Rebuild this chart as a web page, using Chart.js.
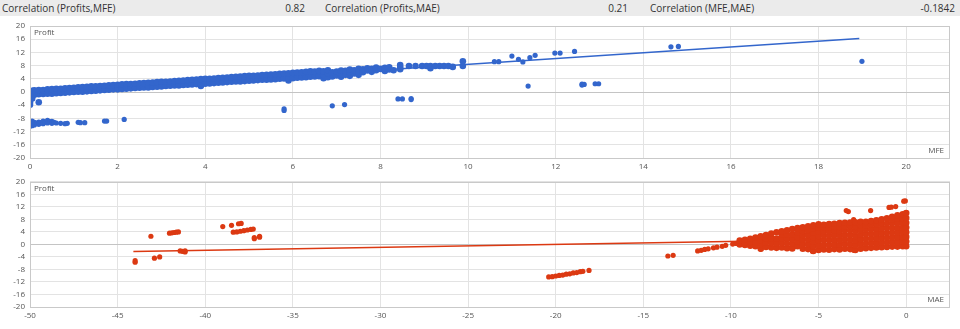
<!DOCTYPE html>
<html>
<head>
<meta charset="utf-8">
<script src="https://cdn.jsdelivr.net/npm/chart.js@4/dist/chart.umd.min.js"></script>
<style>
  body { margin: 0; background: #fff; width: 960px; height: 329px; overflow: hidden; position: relative; font-family: "Open Sans", "DejaVu Sans", sans-serif; }
  #head { position: absolute; left: 0; top: 0; width: 960px; height: 16px; background: #ebebeb; font-size: 10px; color: #333; }
  #head span { position: absolute; top: 1px; white-space: nowrap; }
  canvas { position: absolute; left: 0; }
</style>
</head>
<body>
<div id="head"></div>
<canvas id="mfeChart" width="960" height="157" style="top:15px"></canvas>
<canvas id="maeChart" width="960" height="157" style="top:172px"></canvas>
<script>
// header correlations
const corrLabels = ["Correlation (Profits,MFE)", "Correlation (Profits,MAE)", "Correlation (MFE,MAE)"];
const corrValues = ["0.82", "0.21", "-0.1842"];

// y ticks shared by both charts
const profitTicks = [20, 16, 12, 8, 4, 0, -4, -8, -12, -16, -20];
const mfeTicks = [0, 2, 4, 6, 8, 10, 12, 14, 16, 18, 20];
const maeTicks = [-50, -45, -40, -35, -30, -25, -20, -15, -10, -5, 0];

// MFE vs profit: each row is [mfe, profit, profit, ...]
const mfeBand = [
  [0.0, -0.9, 0.3, -1.6, -2.4, -3.2, -3.9], [0.05, -1.1, -2.0, 0.4], [0.1, -0.8, 0.5],
  [0.2, -0.7, 0.6, -3.1], [0.3, -0.6, 0.6], [0.4, -0.5, 0.8], [0.5, -0.5, 0.9],
  [0.6, -0.4, 1.0], [0.7, -0.3, 1.0], [0.8, -0.2, 1.1], [0.9, -0.1, 1.2],
  [1.0, 0.0, 1.3], [1.1, 0.1, 1.4], [1.2, 0.1, 1.5], [1.3, 0.2, 1.6],
  [1.4, 0.3, 1.7], [1.5, 0.4, 1.7], [1.6, 0.5, 1.8], [1.7, 0.6, 1.9],
  [1.8, 0.7, 2.0], [1.9, 0.8, 2.1], [2.0, 0.8, 2.2], [2.1, 0.9, 2.3],
  [2.2, 1.0, 2.4], [2.3, 1.1, 2.4], [2.4, 1.2, 2.5], [2.5, 1.3, 2.6],
  [2.6, 1.4, 2.7], [2.7, 1.4, 2.8], [2.8, 1.5, 2.9], [2.9, 1.6, 3.0],
  [3.0, 1.7, 3.1], [3.1, 1.8, 3.1], [3.2, 1.9, 3.2], [3.3, 2.0, 3.3],
  [3.4, 2.0, 3.4], [3.5, 2.1, 3.5], [3.6, 2.2, 3.6], [3.7, 2.3, 3.7],
  [3.8, 2.4, 3.8], [3.9, 1.8, 2.5, 3.9], [4.0, 2.5, 4.0], [4.1, 2.6, 4.0],
  [4.2, 2.7, 4.1], [4.3, 2.8, 4.2], [4.4, 2.9, 4.3], [4.5, 3.0, 4.4],
  [4.6, 3.1, 4.5], [4.7, 3.2, 4.6], [4.8, 3.2, 4.7], [4.9, 3.3, 4.8],
  [5.0, 3.4, 4.9], [5.1, 3.5, 4.9], [5.2, 3.6, 5.0], [5.3, 3.7, 5.1],
  [5.4, 3.7, 5.2], [5.5, 3.8, 5.3], [5.6, 3.9, 5.4], [5.7, 4.0, 5.5],
  [5.8, 4.1, 5.6], [5.9, 3.5, 4.2, 5.7], [6.0, 4.2, 5.8], [6.1, 4.3, 5.9],
  [6.2, 4.4, 6.0], [6.3, 4.5, 6.1], [6.4, 4.6, 6.3], [6.5, 4.7, 6.2],
  [6.6, 4.8, 6.4], [6.7, 4.2, 5.2, 6.3], [6.8, 4.5, 5.6, 6.6], [6.9, 4.7, 6.0],
  [7.0, 5.0, 6.2], [7.1, 4.6, 5.4, 6.5], [7.2, 5.2, 6.4], [7.3, 4.9, 6.0, 6.8],
  [7.4, 5.6, 6.6], [7.5, 5.2, 6.2, 7.0], [7.6, 6.0, 6.9], [7.7, 6.5, 7.2],
  [7.8, 6.1, 7.0], [7.9, 6.6, 7.4], [8.0, 7.0], [8.1, 6.4, 7.3],
  [8.2, 6.8, 7.5], [8.3, 6.6], [8.45, 6.9, 7.4, 8.2], [8.65, 7.9],
  [8.8, 7.9], [8.95, 7.9], [9.05, 7.9], [9.14, 7.2, 7.9], [9.25, 7.9],
  [9.35, 7.9], [9.45, 7.9], [9.55, 7.9], [9.65, 7.6], [9.88, 7.9, 9.3]
];
const mfeOutliers = [
  [0.0, -9.0, -9.8, -10.4], [0.05, -8.8, -9.5, -10.2], [0.1, -9.2, -10.0], [0.15, -9.4],
  [0.2, -9.1, -9.8], [0.25, -9.3], [0.3, -8.8, -9.6], [0.35, -9.2], [0.4, -8.6, -9.4],
  [0.45, -9.0], [0.5, -8.9, -9.5], [0.55, -9.2], [0.6, -9.4], [0.7, -9.5],
  [0.8, -9.6], [0.85, -9.5], [1.1, -9.2], [1.15, -9.3], [1.25, -9.3],
  [1.7, -8.8], [1.75, -8.8], [2.15, -8.3], [5.8, -5.1, -5.6], [6.9, -4.2],
  [7.18, -3.8], [8.4, -2.1], [8.5, -2.1], [8.7, -2.0, -2.3],
  [10.6, 9.2], [10.7, 9.2], [11.0, 10.9], [11.15, 9.9], [11.25, 9.1],
  [11.41, 10.4], [11.53, 11.1], [11.98, 11.8], [12.1, 11.8], [12.43, 12.3],
  [11.37, 1.8], [12.6, 2.1, 2.4], [12.65, 2.3], [12.9, 2.5], [12.98, 2.5],
  [14.63, 13.7], [14.8, 13.8], [18.99, 9.3]
];
const mfeTrendX = [0, 18.93];
const mfeTrendY = [-0.4, 16.2];

// MAE vs profit: each row is [mae, profit, profit, ...]
const maeBand = [
  [-9.5, 0.0, 1.2], [-9.2, -0.2, 0.7, 1.5], [-8.9, -0.4, 0.8, 1.8], [-8.6, -0.6, 0.8, 2.2],
  [-8.3, -1.4, 0.1, 1.4, 2.6], [-8.0, -0.8, 0.6, 1.8, 3.0], [-7.7, -1.0, 0.5, 2.0, 3.5],
  [-7.4, -1.1, 0.4, 1.9, 3.9], [-7.1, -1.0, 0.5, 2.0, 3.2, 4.2], [-6.8, -1.2, 0.3, 1.8, 3.1, 4.5],
  [-6.5, -1.3, 0.2, 1.7, 3.2, 4.9], [-6.2, -0.6, 0.9, 2.4, 3.8, 5.2],
  [-5.9, -1.4, 0.1, 1.6, 3.0, 4.3, 5.5], [-5.6, -1.5, 0.0, 1.5, 3.0, 4.4, 5.8],
  [-5.3, -2.1, -0.6, 0.9, 2.4, 3.8, 5.1, 6.1], [-5.0, -1.8, -0.3, 1.2, 2.7, 4.1, 5.3, 6.4],
  [-4.7, -1.6, -0.1, 1.4, 2.9, 4.3, 5.5, 6.3], [-4.4, -1.7, -0.2, 1.3, 2.8, 4.2, 5.4, 6.5],
  [-4.1, -1.5, 0.0, 1.5, 3.0, 4.4, 5.6, 6.6], [-3.8, -1.6, -0.1, 1.4, 2.9, 4.3, 5.6, 6.8],
  [-3.5, -1.4, 0.1, 1.6, 3.1, 4.5, 5.8, 6.9], [-3.2, -1.5, 0.0, 1.5, 3.0, 4.5, 5.9, 7.0],
  [-2.9, -1.8, -0.3, 1.2, 2.7, 4.2, 5.6, 7.1], [-2.6, -1.4, 0.1, 1.6, 3.1, 4.6, 6.0, 7.2],
  [-2.3, -1.2, 0.3, 1.8, 3.3, 4.8, 6.1, 7.2], [-2.0, -1.1, 0.4, 1.9, 3.4, 4.9, 6.3, 7.5],
  [-1.7, -1.0, 0.5, 2.0, 3.5, 5.0, 6.4, 7.7], [-1.4, -0.9, 0.6, 2.1, 3.6, 5.1, 6.6, 8.0],
  [-1.1, -0.8, 0.7, 2.2, 3.7, 5.2, 6.7, 8.3], [-0.8, -0.7, 0.8, 2.3, 3.8, 5.3, 6.8, 8.0, 8.8],
  [-0.5, -0.7, 0.8, 2.3, 3.8, 5.3, 6.8, 8.2, 9.3], [-0.2, -0.6, 0.9, 2.4, 3.9, 5.4, 6.9, 8.3, 9.6],
  [0.0, -0.6, 0.9, 2.4, 3.9, 5.4, 6.9, 8.4, 10.0]
];
const maeOutliers = [
  [-44.0, -5.2, -5.7], [-43.1, 2.6], [-42.9, -4.4], [-42.6, -4.0],
  [-42.04, 3.6], [-41.9, 3.7], [-41.78, 3.8], [-41.65, 3.9], [-41.53, 4.0],
  [-41.43, -2.1], [-41.3, -2.2], [-41.15, -2.4, -2.1],
  [-39.0, 5.7], [-38.5, 6.1], [-38.1, 6.6], [-37.95, 6.7],
  [-38.4, 3.9], [-38.2, 4.0], [-38.0, 4.2], [-37.8, 4.4], [-37.6, 4.6], [-37.4, 4.8], [-37.26, 4.9],
  [-37.2, 1.8, 2.2], [-36.9, 2.3, 2.6],
  [-20.4, -10.4], [-20.2, -10.3], [-20.0, -10.1], [-19.8, -9.9], [-19.6, -9.8],
  [-19.4, -9.5], [-19.2, -9.4], [-19.0, -9.1], [-18.8, -9.0], [-18.6, -8.7],
  [-18.45, -8.6], [-18.1, -8.3],
  [-13.6, -3.7], [-13.3, -3.5], [-11.9, -2.1], [-11.7, -1.9], [-11.5, -1.6],
  [-11.3, -1.4], [-11.0, -1.1], [-10.8, -0.9], [-10.5, -0.6], [-10.3, -0.3],
  [-9.9, 0.1], [-9.7, 0.3],
  [-8.3, -1.5], [-6.3, -0.6], [-5.35, -2.2], [-3.0, -1.9], [-3.0, 7.9],
  [-3.42, 10.8], [-3.3, 10.5], [-2.03, 10.8], [-0.98, 11.8], [-0.85, 11.9],
  [-0.6, 12.1], [-0.14, 13.8], [-0.05, 13.9]
];
const maeTrendX = [-44.1, 0];
const maeTrendY = [-2.3, 1.85];

const head = document.getElementById("head");
const labelLeft = [2, 325, 650];
const valueRight = [655, 332, 5];
corrLabels.forEach((t, i) => {
  head.innerHTML += `<span style="left:${labelLeft[i]}px">${t}</span>`;
  head.innerHTML += `<span style="right:${valueRight[i]}px">${corrValues[i]}</span>`;
});

const toPoints = rows => rows.flatMap(([x, ...ys]) => ys.map(y => ({ x, y })));
const toLine = (xs, ys) => xs.map((x, i) => ({ x, y: ys[i] }));

// plot frame + corner labels
const framePlugin = {
  id: "frame",
  afterDraw(chart, args, opts) {
    const { ctx, chartArea: a } = chart;
    ctx.save();
    ctx.strokeStyle = "#c9c9c9";
    ctx.lineWidth = 1;
    ctx.strokeRect(Math.round(a.left) + 0.5, Math.round(a.top) + 0.5, Math.round(a.right - a.left) - 1, Math.round(a.bottom - a.top));
    ctx.fillStyle = "#555";
    ctx.font = "8px 'Open Sans', sans-serif";
    ctx.textBaseline = "middle";
    ctx.textAlign = "left";
    ctx.fillText("Profit", a.left + 4, a.top + 7);
    ctx.textAlign = "right";
    ctx.fillText(opts.xName, a.right - 6, a.bottom - 7);
    ctx.restore();
  }
};

const tickFont = { size: 8, family: "'Open Sans', sans-serif" };

function makeChart(id, color, band, outliers, trend, xName, xMin, xMax, xTicks, padTop, xHeight) {
  new Chart(document.getElementById(id), {
    type: "scatter",
    data: {
      datasets: [
        {
          data: toPoints(band),
          backgroundColor: color,
          borderColor: color,
          pointRadius: 3.3,
          pointBorderWidth: 0
        },
        {
          data: toPoints(outliers),
          backgroundColor: color,
          borderColor: color,
          pointRadius: 2.6,
          pointBorderWidth: 0
        },
        {
          data: trend,
          showLine: true,
          borderColor: color,
          borderWidth: 1.5,
          pointRadius: 0
        }
      ]
    },
    options: {
      responsive: false,
      animation: false,
      layout: { padding: { top: padTop, right: 10, left: 0, bottom: 0 } },
      plugins: { legend: { display: false }, tooltip: { enabled: false }, frame: { xName } },
      scales: {
        x: {
          type: "linear",
          min: xMin,
          max: xMax,
          afterBuildTicks: s => { s.ticks = xTicks.map(v => ({ value: v })); },
          afterFit: s => { s.height = xHeight; },
          grid: { color: "#e3e3e3", drawTicks: false },
          border: { display: false },
          ticks: { color: "#555", font: tickFont, padding: 4, maxRotation: 0, autoSkip: false }
        },
        y: {
          min: -20,
          max: 20,
          afterBuildTicks: s => { s.ticks = profitTicks.map(v => ({ value: v })); },
          afterFit: s => { s.width = 30; },
          grid: { color: c => c.tick && c.tick.value === 0 ? "#c4c4c4" : "#e3e3e3", drawTicks: false },
          border: { display: false },
          ticks: { color: "#555", font: tickFont, padding: 5, autoSkip: false }
        }
      }
    },
    plugins: [framePlugin]
  });
}

makeChart("mfeChart", "#3366cc", mfeBand, mfeOutliers, toLine(mfeTrendX, mfeTrendY), "MFE", 0, 21, mfeTicks, 11, 14);
makeChart("maeChart", "#dc3912", maeBand, maeOutliers, toLine(maeTrendX, maeTrendY), "MAE", -50, 2.5, maeTicks, 3, 22);
</script>
</body>
</html>
